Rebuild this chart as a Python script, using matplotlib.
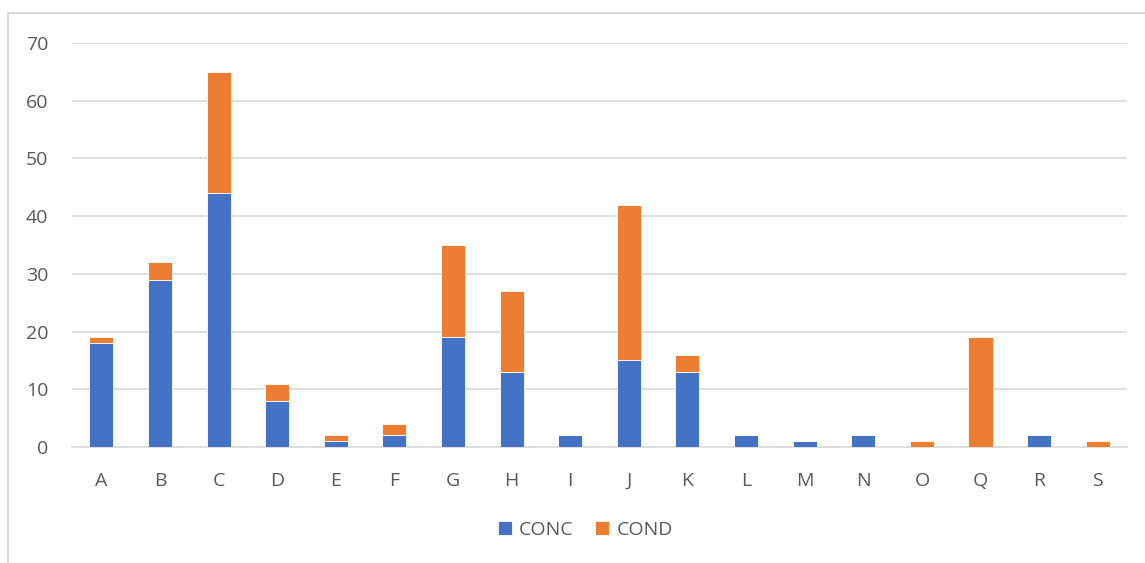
import numpy as np
import matplotlib.pyplot as plt
from matplotlib.patches import Rectangle

categories = ["A", "B", "C", "D", "E", "F", "G", "H", "I", "J", "K", "L", "M", "N", "O", "Q", "R", "S"]
conc = [18, 29, 44, 8, 1, 2, 19, 13, 2, 15, 13, 2, 1, 2, 0, 0, 2, 0]
cond = [1, 3, 21, 3, 1, 2, 16, 14, 0, 27, 3, 0, 0, 0, 1, 19, 0, 1]

plt.rcParams['font.family'] = ['Open Sans', 'DejaVu Sans']

fig = plt.figure(figsize=(11.45, 5.63), dpi=100)
ax = fig.add_axes([0.0629, 0.206, 0.9214, 0.7176])

x = np.arange(len(categories))
ax.bar(x, conc, width=0.41, color="#4472C4", edgecolor="white", linewidth=0.6, label="CONC", zorder=3)
ax.bar(x, cond, width=0.41, bottom=conc, color="#ED7D31", edgecolor="white", linewidth=0.6, label="COND", zorder=3)

ax.set_xlim(-0.5, len(categories) - 0.5)
ax.set_ylim(0, 70)
ax.set_yticks(range(0, 71, 10))
ax.set_xticks(x)
ax.set_xticklabels(categories)
ax.yaxis.grid(True, color="#D9D9D9", linewidth=1.2, zorder=0)
for s in ["top", "right", "left"]:
    ax.spines[s].set_visible(False)
ax.spines["bottom"].set_color("#D9D9D9")
ax.spines["bottom"].set_linewidth(1.2)
ax.tick_params(axis="both", length=0, labelsize=14, colors="#595959")
ax.tick_params(axis="x", pad=18)
ax.tick_params(axis="y", pad=17)

fig.legend(loc="center", bbox_to_anchor=(0.511, 0.059), ncol=2, frameon=False,
           fontsize=14, handlelength=0.75, handleheight=0.75, handletextpad=0.35,
           columnspacing=1.1, labelcolor="#595959")

# outer chart frame
fig.patches.append(Rectangle((8 / 1145, -0.1), 1.2, 1 - 13 / 563 + 0.1, transform=fig.transFigure,
                             fill=False, edgecolor="#D9D9D9", linewidth=1.5))

plt.savefig("out.png", dpi=100)
